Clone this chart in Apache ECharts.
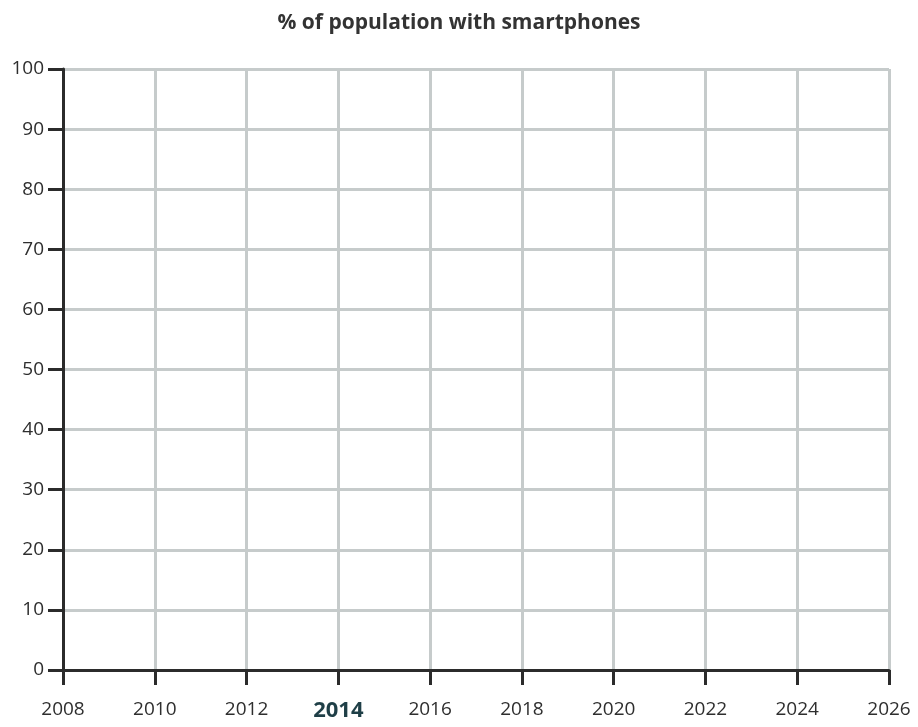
<!DOCTYPE html>
<html><head><meta charset="utf-8">
<script src="https://cdn.jsdelivr.net/npm/echarts@6/dist/echarts.min.js"></script>
<style>html,body{margin:0;padding:0;background:#fff}#c{width:918px;height:727px}</style>
</head><body><div id="c"></div>
<script>
const title = '% of population with smartphones';
const yearTicks = [2008, 2010, 2012, 2014, 2016, 2018, 2020, 2022, 2024, 2026];
const highlightYear = 2014;
const percentTicks = [0, 10, 20, 30, 40, 50, 60, 70, 80, 90, 100];
const smartphoneShare = []; // blank chart: no values plotted

const chart = echarts.init(document.getElementById('c'));
chart.setOption({
  animation: false,
  backgroundColor: '#fff',
  title: {
    text: title, left: 'center', top: 8,
    textStyle: { fontFamily: 'Open Sans', fontWeight: 'bold', fontSize: 21, color: '#333' }
  },
  grid: { left: 63, right: 29, top: 69, bottom: 57 },
  xAxis: {
    type: 'value', min: yearTicks[0], max: yearTicks[yearTicks.length - 1], interval: 2,
    axisLine: { show: true, lineStyle: { color: '#2b2b2b', width: 3 } },
    axisTick: { show: true, length: 15, lineStyle: { color: '#2b2b2b', width: 3 } },
    splitLine: { show: true, lineStyle: { color: '#c6cbcb', width: 3 } },
    axisLabel: {
      margin: 30, fontFamily: 'Open Sans', fontSize: 19, color: '#2e2e2e',
      formatter: v => v === highlightYear ? '{h|' + v + '}' : String(v),
      rich: { h: { fontFamily: 'Open Sans', fontSize: 22, fontWeight: 'bold', color: '#1f3f47' } }
    }
  },
  yAxis: {
    type: 'value', min: percentTicks[0], max: percentTicks[percentTicks.length - 1], interval: 10,
    axisLine: { show: true, lineStyle: { color: '#2b2b2b', width: 3 } },
    axisTick: { show: true, length: 15, lineStyle: { color: '#2b2b2b', width: 3 } },
    splitLine: { show: true, lineStyle: { color: '#c6cbcb', width: 3 } },
    axisLabel: { margin: 19, fontFamily: 'Open Sans', fontSize: 19, color: '#2e2e2e' }
  },
  series: [{ type: 'line', data: smartphoneShare, showSymbol: false }]
});
</script></body></html>
